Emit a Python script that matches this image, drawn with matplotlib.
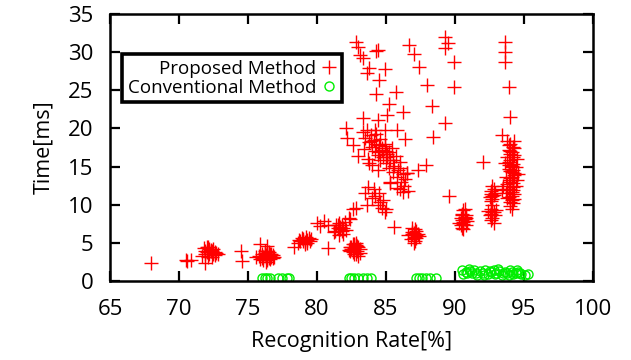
import matplotlib
matplotlib.use("Agg")
import matplotlib.pyplot as plt

plt.rcParams['font.family'] = ['Open Sans', 'DejaVu Sans']

# Proposed Method: (recognition rate %, time ms)
proposed_x = [
    68.0, 70.5, 70.9, 70.6,
    71.8, 71.9, 72.0, 72.1, 72.2, 72.3, 72.4, 72.5, 72.6, 72.7, 72.1, 71.7, 71.9, 72.4, 72.2, 72.0,
    72.3, 72.5, 71.9, 72.6, 72.2, 72.8,
    74.5, 74.6,
    75.6, 75.9, 76.4, 75.8, 76.0, 76.1, 76.2, 76.3, 76.4, 76.5, 76.6, 76.7, 76.8, 76.0, 76.3, 76.5, 76.2, 75.9, 76.6, 76.9,
    76.1, 76.3, 76.5, 76.7, 76.4, 76.2, 76.6, 76.0, 76.8, 76.4,
    78.3, 78.6, 78.8, 79.0, 79.1, 79.2, 79.3, 79.4, 79.5, 78.9, 79.6, 79.1, 79.0, 79.3, 78.7,
    80.0, 80.2, 80.5, 80.8, 81.3, 81.5, 81.6, 81.7, 81.8, 81.9, 82.0, 81.6, 81.4, 82.1, 81.2, 80.8, 82.3, 82.6, 82.4,
    81.7, 81.9, 81.5, 81.8,
    82.3, 82.5, 82.6, 82.7, 82.8, 82.9, 83.0, 83.1, 82.4, 82.8, 82.6, 83.0, 82.7,
    82.5, 82.9, 82.6, 82.8, 82.7, 83.1, 82.4,
    82.8, 83.0, 83.1, 83.3, 84.3, 84.4, 83.8, 83.6, 84.9, 84.5, 84.3, 85.7, 85.2, 85.1, 86.2,
    86.7, 87.0, 87.4, 88.0, 88.3, 89.3, 88.4, 89.3, 89.5, 89.3, 89.9, 89.9,
    82.1, 82.2, 82.6, 83.3, 84.4, 84.9, 85.8, 86.4,
    83.3, 83.5, 83.6, 83.8, 83.9, 84.0, 84.1, 84.2, 84.3, 84.4, 84.5, 84.6, 84.6, 84.7, 84.8, 84.9,
    85.0, 85.0, 85.1, 85.2, 85.3, 85.4, 85.5, 85.6, 85.7, 85.8, 85.9, 86.0, 86.1, 86.2, 86.3, 86.4,
    86.5, 84.2, 83.4, 83.7, 84.0, 85.3, 86.0, 86.6, 87.3, 87.9, 83.0, 83.8, 84.4, 86.0, 86.5, 85.3,
    85.8, 86.2, 84.3, 84.7, 85.1, 85.5, 84.9, 85.2, 84.5, 83.9,
    83.7, 83.5, 84.0, 84.6, 84.7, 84.9, 83.6, 82.8, 84.2, 84.4, 84.8, 84.1, 85.0, 84.5,
    85.6, 86.6, 86.8, 86.9, 87.0, 87.1, 87.1, 87.2, 87.3, 87.4, 87.0, 86.9, 87.2,
    87.0, 87.1, 86.9, 87.2, 87.0,
    90.3, 90.4, 90.5, 90.5, 90.6, 90.6, 90.7, 90.8, 90.8, 90.9, 90.6, 90.7, 90.4,
    90.5, 90.7, 90.6, 90.5, 90.8,
    92.5, 92.6, 92.7, 92.7, 92.8, 92.9, 92.6, 92.8, 92.7, 92.6,
    92.4, 92.5, 92.6, 92.7, 92.8, 92.9, 93.0, 92.7, 92.6, 92.8, 92.7, 92.6,
    93.8, 94.0, 94.2, 93.9, 94.1, 94.3, 93.8, 94.0, 94.2, 94.4, 93.9, 94.1, 94.3, 93.7, 94.0, 94.2,
    94.4, 93.8, 94.1, 94.3, 93.9, 94.1, 94.2, 94.0, 94.1, 93.6, 94.5, 94.5, 93.7, 93.9, 94.3, 94.0,
    94.2, 93.9, 94.6, 93.5, 94.1, 94.0, 94.3, 93.4,
    94.0, 94.2, 93.9, 94.1, 94.3, 94.0, 93.8, 94.2, 94.1, 94.0, 94.3, 93.9, 94.1, 94.2, 94.0, 93.8,
    92.0, 89.6, 93.4, 94.0, 93.9, 93.6, 93.6, 93.6,
]
proposed_y = [
    2.3, 2.8, 2.8, 2.6,
    4.3, 4.0, 3.8, 4.5, 3.6, 4.1, 3.9, 3.5, 3.8, 3.7, 3.2, 3.3, 2.3, 3.2, 4.2, 4.4,
    4.0, 4.2, 3.6, 3.4, 3.9, 3.6,
    4.0, 2.6,
    3.1, 4.9, 4.6, 3.3, 3.0, 2.8, 3.5, 3.2, 2.7, 3.8, 3.3, 3.6, 3.4, 3.6, 2.5, 3.0, 3.9, 2.9, 2.9, 3.2,
    3.2, 3.4, 3.6, 3.1, 3.0, 3.7, 3.5, 3.3, 3.0, 3.9,
    4.4, 5.0, 5.3, 5.5, 5.1, 5.8, 5.4, 5.6, 5.2, 5.7, 5.5, 4.8, 5.2, 5.0, 5.4,
    7.6, 7.2, 7.9, 7.3, 6.5, 7.0, 7.6, 6.8, 7.3, 6.2, 7.8, 6.0, 7.4, 6.7, 6.4, 4.3, 8.2, 9.4, 8.1,
    7.1, 6.9, 7.3, 6.6,
    4.1, 4.5, 3.8, 4.3, 4.7, 4.0, 4.4, 3.7, 3.9, 5.0, 4.9, 3.3, 3.5,
    4.2, 4.6, 4.1, 3.6, 4.8, 4.2, 4.4,
    31.3, 30.7, 29.6, 29.2, 30.1, 30.3, 27.9, 27.3, 27.8, 26.3, 24.5, 24.8, 23.2, 21.8, 22.1,
    30.9, 29.7, 28.0, 25.7, 22.9, 20.7, 18.9, 32.0, 31.2, 30.5, 28.7, 25.4,
    20.1, 18.7, 17.8, 21.4, 21.1, 19.8, 19.8, 18.6,
    19.5, 18.8, 19.8, 18.2, 19.1, 17.6, 18.5, 17.0, 19.3, 16.5, 17.8, 18.6, 15.8, 17.2, 16.3, 18.0,
    15.5, 17.0, 16.2, 14.8, 15.9, 17.4, 14.3, 15.1, 16.4, 13.6, 14.6, 15.6, 13.0, 14.0, 12.4, 13.4,
    14.2, 19.8, 17.3, 16.0, 15.2, 12.8, 12.0, 11.8, 14.5, 15.2, 16.4, 15.5, 14.5, 14.8, 14.2, 13.0,
    12.2, 11.7, 18.0, 17.5, 16.6, 15.8, 17.7, 16.9, 16.9, 18.3,
    12.3, 11.5, 10.9, 10.4, 9.6, 9.0, 10.0, 9.6, 11.2, 10.0, 10.6, 12.0, 9.4, 11.6,
    7.1, 6.0, 5.5, 6.4, 6.0, 5.2, 6.8, 5.7, 6.2, 5.9, 5.0, 6.9, 6.5,
    6.3, 5.8, 6.1, 6.0, 5.6,
    7.6, 8.3, 7.0, 8.8, 7.8, 9.3, 8.1, 7.3, 8.6, 7.9, 6.8, 9.5, 7.3,
    8.0, 8.4, 7.5, 8.6, 8.2,
    11.0, 11.8, 10.7, 12.4, 11.3, 11.6, 10.5, 12.0, 11.1, 11.4,
    9.2, 8.7, 9.5, 8.2, 9.0, 8.6, 9.3, 9.9, 8.0, 7.6, 9.1, 8.8,
    18.3, 18.0, 17.6, 17.2, 16.9, 16.5, 16.2, 15.8, 15.4, 15.0, 14.7, 14.3, 13.9, 13.6, 13.2, 12.8,
    12.5, 12.1, 11.7, 11.4, 11.0, 10.6, 10.2, 9.8, 9.4, 15.5, 16.0, 13.3, 11.5, 17.8, 18.4, 12.0,
    14.6, 13.0, 14.0, 12.5, 15.1, 16.6, 10.8, 11.9,
    17.0, 16.3, 15.6, 14.9, 14.1, 13.5, 12.7, 11.9, 11.2, 10.4, 17.4, 15.2, 13.7, 12.3, 14.4, 10.9,
    15.6, 11.1, 19.2, 21.5, 25.4, 28.7, 30.0, 31.4,
]

# Conventional Method
conventional_x = [
    76.0, 76.2, 76.4, 76.6, 77.2, 77.5, 77.8, 78.0,
    82.3, 82.5, 82.7, 83.0, 83.3, 83.6, 83.9,
    87.2, 87.4, 87.6, 87.9, 88.2, 88.6,
    90.5, 90.6, 90.8, 91.0, 91.2, 91.4, 91.6, 91.8, 92.0, 92.2, 92.4, 92.6, 92.8, 93.0, 93.2,
    93.4, 93.6, 93.8, 94.0, 94.2, 94.4, 94.6, 94.8, 95.1, 95.3, 91.1, 92.1, 93.1, 93.9, 94.5,
    90.9, 91.5, 92.5, 92.9, 93.5, 94.1, 94.7,
]
conventional_y = [
    0.4, 0.4, 0.4, 0.4, 0.4, 0.4, 0.4, 0.4,
    0.4, 0.4, 0.4, 0.4, 0.4, 0.4, 0.4,
    0.4, 0.4, 0.4, 0.4, 0.4, 0.4,
    1.5, 0.9, 1.2, 1.6, 1.0, 1.4, 0.8, 1.3, 1.1, 1.5, 0.9, 1.2, 1.4, 1.0, 1.3,
    0.8, 1.2, 1.0, 1.4, 0.9, 1.1, 1.2, 0.9, 0.8, 0.9, 1.3, 0.8, 1.6, 0.8, 1.4,
    1.1, 1.0, 1.3, 0.9, 1.1, 1.2, 1.0,
]

x_ticks = [65, 70, 75, 80, 85, 90, 95, 100]
y_ticks = [0, 5, 10, 15, 20, 25, 30, 35]

fig = plt.figure(figsize=(6.31, 3.6), dpi=100)
ax = fig.add_axes([0.1743, 0.2194, 0.7655, 0.7416])

ax.plot(proposed_x, proposed_y, linestyle='none', marker='+', markersize=9.5,
        markeredgewidth=1.0, color='#ff0000', label='Proposed Method')
ax.plot(conventional_x, conventional_y, linestyle='none', marker='o', markersize=6.5,
        markerfacecolor='none', markeredgewidth=1.0, color='#00ee00',
        label='Conventional Method')

ax.set_xlim(65, 100)
ax.set_ylim(0, 35)
ax.set_xticks(x_ticks)
ax.set_yticks(y_ticks)
ax.tick_params(direction='in', length=7, width=1.6, top=True, right=True,
               labelsize=16)
ax.tick_params(axis='x', pad=13)
ax.tick_params(axis='y', pad=12)
for s in ax.spines.values():
    s.set_linewidth(1.8)

ax.set_xlabel('Recognition Rate[%]', fontsize=15.5, labelpad=8)
ax.set_ylabel('Time[ms]', fontsize=15.5, labelpad=10)

leg = ax.legend(loc='upper left', bbox_to_anchor=(0.025, 0.85), borderaxespad=0,
                markerfirst=False, fontsize=13.5, frameon=True, fancybox=False,
                handlelength=0.8, handletextpad=0.3, borderpad=0.3,
                labelspacing=0.05)
for t in leg.get_texts():
    t.set_ha('right')
leg.get_frame().set_edgecolor('black')
leg.get_frame().set_linewidth(2.6)
leg.get_frame().set_alpha(1)

fig.savefig('out.png', dpi=100)
